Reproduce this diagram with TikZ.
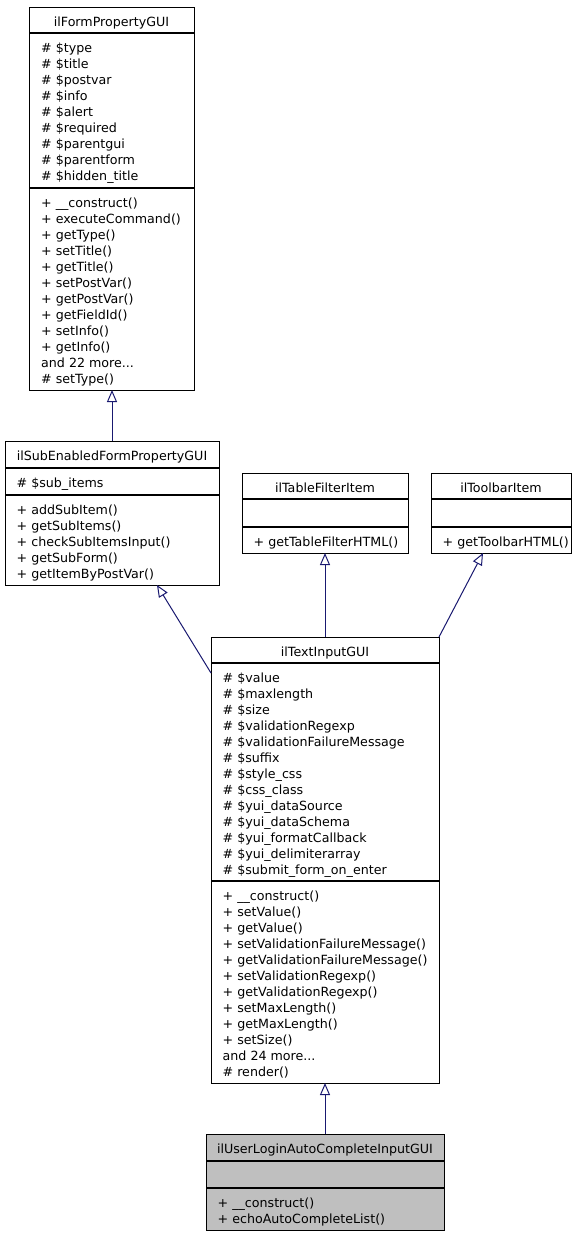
\documentclass[tikz,border=0pt]{standalone}
\usepackage{fontspec}
\setmainfont{DejaVu Sans}
\usetikzlibrary{arrows.meta,calc}
\definecolor{edgecol}{HTML}{191970}
\definecolor{grayfill}{HTML}{BFBFBF}
\newcommand\mydots{...}
\tikzset{
  box/.style={draw=black, line width=1pt, anchor=north west, inner sep=0pt, outer sep=0pt},
  txt/.style={anchor=base west, inner sep=0pt, font=\fontsize{12.65}{16}\selectfont},
  ttl/.style={anchor=base, inner sep=0pt, font=\fontsize{12.65}{16}\selectfont},
  divider/.style={draw=black, line width=1.3pt},
  inh/.style={draw=edgecol, line width=1pt, -{Triangle[length=12pt,width=10pt,fill=white]}}
}
\begin{document}
\begin{tikzpicture}[x=1pt,y=-1pt]
\useasboundingbox (0,0) rectangle (584,1237);
\fill[white] (0,0) rectangle (584,1237);

% A: ilFormPropertyGUI
\node[box, minimum width=165pt, minimum height=383pt] (A) at (29,7) {};
\draw[divider] (29,33) -- (194,33);
\draw[divider] (29,188) -- (194,188);
\node[ttl] (At) at (111.5,26) {ilFormPropertyGUI};
\foreach [count=\i from 0] \s in {\# \$type,\# \$title,\# \$postvar,\# \$info,\# \$alert,\# \$required,\# \$parentgui,\# \$parentform,\# \$hidden\_title}
  \node[txt] (Aa\i) at (41,{52+16*\i}) {\s};
\foreach [count=\i from 0] \s in {+ \_\_construct(),+ executeCommand(),+ getType(),+ setTitle(),+ getTitle(),+ setPostVar(),+ getPostVar(),+ getFieldId(),+ setInfo(),+ getInfo(),and 22 more\mydots,\# setType()}
  \node[txt] (Am\i) at (41,{207+16*\i}) {\s};

% B: ilSubEnabledFormPropertyGUI
\node[box, minimum width=214pt, minimum height=144pt] (B) at (5,441) {};
\draw[divider] (5,468) -- (219,468);
\draw[divider] (5,495) -- (219,495);
\node[ttl] (Bt) at (112,460) {ilSubEnabledFormPropertyGUI};
\node[txt] (Ba0) at (16.5,487) {\# \$sub\_items};
\foreach [count=\i from 0] \s in {+ addSubItem(),+ getSubItems(),+ checkSubItemsInput(),+ getSubForm(),+ getItemByPostVar()}
  \node[txt] (Bm\i) at (16.5,{514+16*\i}) {\s};

% C: ilTableFilterItem
\node[box, minimum width=166pt, minimum height=80pt] (C) at (242,473) {};
\draw[divider] (242,499) -- (408,499);
\draw[divider] (242,527) -- (408,527);
\node[ttl] (Ct) at (325,492) {ilTableFilterItem};
\node[txt] (Cm0) at (253.5,546) {+ getTableFilterHTML()};

% D: ilToolbarItem
\node[box, minimum width=140pt, minimum height=80pt] (D) at (431,473) {};
\draw[divider] (431,499) -- (571,499);
\draw[divider] (431,527) -- (571,527);
\node[ttl] (Dt) at (501,492) {ilToolbarItem};
\node[txt] (Dm0) at (442.5,546) {+ getToolbarHTML()};

% E: ilTextInputGUI
\node[box, minimum width=228pt, minimum height=446pt] (E) at (211,637) {};
\draw[divider] (211,663) -- (439,663);
\draw[divider] (211,881) -- (439,881);
\node[ttl] (Et) at (325,656) {ilTextInputGUI};
\foreach [count=\i from 0] \s in {\# \$value,\# \$maxlength,\# \$size,\# \$validationRegexp,\# \$validationFailureMessage,\# \$suffix,\# \$style\_css,\# \$css\_class,\# \$yui\_dataSource,\# \$yui\_dataSchema,\# \$yui\_formatCallback,\# \$yui\_delimiterarray,\# \$submit\_form\_on\_enter}
  \node[txt] (Ea\i) at (222.5,{682+16*\i}) {\s};
\foreach [count=\i from 0] \s in {+ \_\_construct(),+ setValue(),+ getValue(),+ setValidationFailureMessage(),+ getValidationFailureMessage(),+ setValidationRegexp(),+ getValidationRegexp(),+ setMaxLength(),+ getMaxLength(),+ setSize(),and 24 more\mydots,\# render()}
  \node[txt] (Em\i) at (222.5,{900+16*\i}) {\s};

% F: ilUserLoginAutoCompleteInputGUI
\node[box, fill=grayfill, minimum width=238pt, minimum height=96pt] (F) at (206,1134) {};
\draw[divider] (206,1161) -- (444,1161);
\draw[divider] (206,1188) -- (444,1188);
\node[ttl] (Ft) at (325,1153) {ilUserLoginAutoCompleteInputGUI};
\foreach [count=\i from 0] \s in {+ \_\_construct(),+ echoAutoCompleteList()}
  \node[txt] (Fm\i) at (217.5,{1207+16*\i}) {\s};

% inheritance edges
\draw[inh] (B.north) -- (B.north |- A.south);
\draw[inh] ([yshift=-36pt]E.north west) -- ([xshift=45pt]B.south);
\draw[inh] (E.north) -- (C.south);
\draw[inh] (E.north east) -- ([xshift=-18pt]D.south);
\draw[inh] (F.north) -- (E.south);
\end{tikzpicture}
\end{document}
